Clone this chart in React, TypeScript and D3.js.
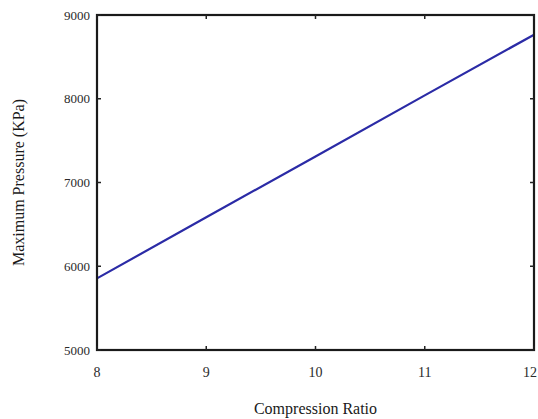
import React from 'react'
import * as d3 from 'd3'

// data
const compressionRatio = [8, 9, 10, 11, 12]
const maxPressure = [5855, 6585, 7310, 8040, 8765]
const xTicks = [8, 9, 10, 11, 12]
const yTicks = [5000, 6000, 7000, 8000, 9000]

const App = () => {
  const width = 538
  const height = 419
  const margins = { top: 15, left: 97, right: 4, bottom: 69 }

  const xScale = d3.scaleLinear()
    .domain([8, 12])
    .range([margins.left, width - margins.right])

  const yScale = d3.scaleLinear()
    .domain([5000, 9000])
    .range([height - margins.bottom, margins.top])

  const line = d3.line<number>()
    .x((d, i) => xScale(compressionRatio[i]))
    .y(d => yScale(d))

  const x0 = xScale.range()[0]
  const x1 = xScale.range()[1]
  const y0 = yScale.range()[0]
  const y1 = yScale.range()[1]
  const tickLen = 4
  const font = '"Liberation Serif", "Times New Roman", serif'

  return (
    <div style={{ position: 'absolute', left: 0, top: 0 }}>
      <svg width={width} height={height} style={{ display: 'block', background: '#fff' }}>
        {/* line */}
        <path d={line(maxPressure) || ''} fill="none" stroke="#2b2ba6" strokeWidth={2.2} />

        {/* box */}
        <rect x={x0} y={y1} width={x1 - x0} height={y0 - y1} fill="none" stroke="#1a1a1a" strokeWidth={2.2} />

        {/* x ticks, inward, bottom and top */}
        {xTicks.map((t, i) => {
          // last label would run off the page, keep it inside
          const last = i === xTicks.length - 1
          return (
            <g key={'x' + t}>
              <line x1={xScale(t)} x2={xScale(t)} y1={y0} y2={y0 - tickLen} stroke="#222" strokeWidth={1.5} />
              <line x1={xScale(t)} x2={xScale(t)} y1={y1} y2={y1 + tickLen} stroke="#222" strokeWidth={1.5} />
              <text x={last ? width - 1 : xScale(t)} y={y0 + 27} textAnchor={last ? 'end' : 'middle'}
                fontFamily={font} fontSize={14} fill="#2a2a2a">{t}</text>
            </g>
          )
        })}

        {/* y ticks, inward, left and right */}
        {yTicks.map(t => (
          <g key={'y' + t}>
            <line x1={x0} x2={x0 + tickLen} y1={yScale(t)} y2={yScale(t)} stroke="#222" strokeWidth={1.5} />
            <line x1={x1} x2={x1 - tickLen} y1={yScale(t)} y2={yScale(t)} stroke="#222" strokeWidth={1.5} />
            <text x={x0 - 7} y={yScale(t)} dy="0.35em" textAnchor="end" fontFamily={font} fontSize={13} fill="#2a2a2a">{t}</text>
          </g>
        ))}

        {/* axis titles */}
        <text x={(x0 + x1) / 2} y={height - 5} textAnchor="middle" fontFamily={font} fontSize={16} fill="#1a1a1a">Compression Ratio</text>
        <text transform={`translate(24,${(y0 + y1) / 2}) rotate(-90)`} textAnchor="middle" fontFamily={font} fontSize={16} fill="#1a1a1a">Maximum Pressure (KPa)</text>
      </svg>
    </div>
  )
}

export default App
